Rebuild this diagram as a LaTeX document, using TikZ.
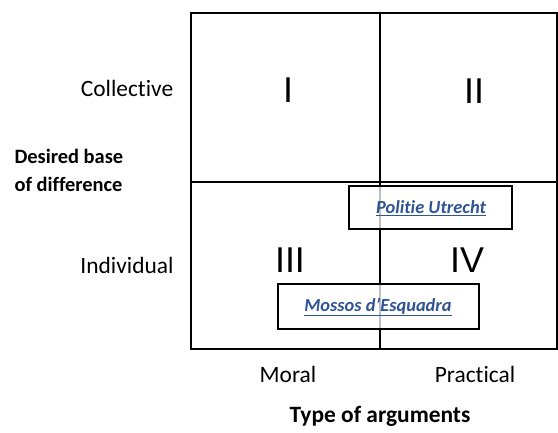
\documentclass[tikz,border=0pt]{standalone}
\usepackage{fontspec}
\setmainfont{Carlito}[Ligatures=NoCommon]
\newfontfamily\numfont{Liberation Sans}
\definecolor{linkblue}{HTML}{2F5496}
\begin{document}
\begin{tikzpicture}[x=1bp,y=-1bp,
  frame/.style={line width=1.8bp,black},
  casebox/.style={draw=black,line width=1.4bp,fill=white,fill opacity=0.75,text opacity=1,inner sep=0pt},
  roman/.style={font=\numfont\fontsize{36}{40}\selectfont},
  axis/.style={font=\fontsize{23.5}{28}\selectfont},
  title/.style={font=\bfseries\fontsize{23.5}{28}\selectfont},
  sidetitle/.style={font=\bfseries\fontsize{20.5}{24}\selectfont,anchor=west},
  caselabel/.style={font=\bfseries\itshape\fontsize{18.5}{22}\selectfont,text=linkblue}]
\useasboundingbox (0,0) rectangle (558,432);
% frame
\coordinate (tl) at (191,13);
\coordinate (br) at (557,349);
\coordinate (mt) at (380,13);
\coordinate (mb) at (380,349);
\coordinate (ml) at (191,182);
\coordinate (mr) at (557,182);
\draw[frame] (tl) rectangle (br);
\draw[frame] (mt) -- (mb);
\draw[frame] (ml) -- (mr);
% numerals
\node[roman] (q1) at (288,90) {I};
\node[roman] (q2) at (474,91) {II};
\node[roman] (q3) at (290,260) {III};
\node[roman] (q4) at (467,260) {IV};
% case boxes
\node[casebox,minimum width=163bp,minimum height=43bp] (pu) at (430.5,207.5) {};
\node[caselabel] (put) at (431,208) {\underline{Politie Utrecht}};
\node[casebox,minimum width=201bp,minimum height=45bp] (me) at (378.5,306.5) {};
\node[caselabel] (met) at (378,307) {\underline{Mossos d’Esquadra}};
% axis labels
\node[axis] (coll) at (127,88) {Collective};
\node[axis] (indiv) at (127,265) {Individual};
\node[sidetitle] (d1) at (11,156) {Desired base};
\node[sidetitle] (d2) at (11,184) {of difference};
\node[axis] (moral) at (288,374) {Moral};
\node[axis] (prac) at (475,374) {Practical};
\node[title] (type) at (380,416) {Type of arguments};
\end{tikzpicture}
\end{document}
